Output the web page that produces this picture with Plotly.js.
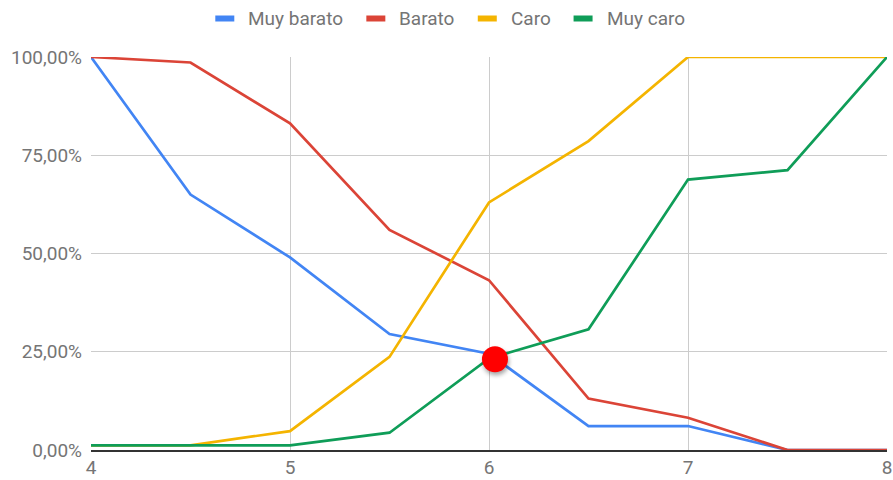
<!DOCTYPE html>
<html>
<head>
<meta charset="utf-8">
<script src="https://cdn.plot.ly/plotly-3.0.1.min.js"></script>
<style>
html,body{margin:0;padding:0;background:#fff;}
#chart{width:893px;height:480px;}
</style>
</head>
<body>
<div id="chart"></div>
<script>
// Price points (x axis)
const prices = [4, 4.5, 5, 5.5, 6, 6.5, 7, 7.5, 8];

// Series values (fractions of respondents)
const muyBarato = [1.00, 0.65, 0.49, 0.295, 0.245, 0.061, 0.061, 0.0, 0.0];
const barato    = [1.00, 0.986, 0.831, 0.56, 0.432, 0.131, 0.082, 0.0, 0.0];
const caro      = [0.012, 0.012, 0.048, 0.237, 0.63, 0.786, 1.00, 1.00, 1.00];
const muyCaro   = [0.012, 0.012, 0.012, 0.044, 0.233, 0.307, 0.688, 0.712, 1.00];

// Highlighted intersection point
const dotX = [6.03];
const dotY = [0.231];

// Series names
const seriesNames = ['Muy barato', 'Barato', 'Caro', 'Muy caro'];

// Tick values / labels
const yTickVals = [0, 0.25, 0.5, 0.75, 1];
const yTickText = ['0,00%', '25,00%', '50,00%', '75,00%', '100,00%'];
const xTickVals = [4, 5, 6, 7, 8];
const xTickText = ['4', '5', '6', '7', '8'];

const colors = ['#4285F4', '#DB4437', '#F4B400', '#0F9D58'];
const seriesData = [muyBarato, barato, caro, muyCaro];

const W = 893, H = 480;
const M = {l: 91, r: 6, t: 57, b: 30};
const plotW = W - M.l - M.r, plotH = H - M.t - M.b;
const fontFamily = 'Roboto, Arial, sans-serif';
const textColor = '#757575';
const legendFontSize = 19;

const traces = seriesData.map((ys, i) => ({
  type: 'scatter',
  mode: 'lines',
  x: prices,
  y: ys,
  name: seriesNames[i],
  line: {color: colors[i], width: 2.7},
  hoverinfo: 'skip',
  showlegend: false
}));

traces.push({
  type: 'scatter',
  mode: 'markers',
  x: dotX,
  y: dotY,
  showlegend: false,
  marker: {color: '#ff0000', size: 26, line: {width: 0}},
  hoverinfo: 'skip',
  cliponaxis: false
});

// Custom legend (rect swatches + labels), laid out centred in the page
const ctx = document.createElement('canvas').getContext('2d');
ctx.font = legendFontSize + 'px Roboto';
const swatchW = 19, swatchH = 6, swatchGap = 12, itemGap = 25;
const textWidths = seriesNames.map(n => ctx.measureText(n).width);
const totalW = textWidths.reduce((s, w) => s + swatchW + swatchGap + w, 0) + itemGap * (seriesNames.length - 1);
const legendCenterPx = 449, legendYPx = 18.5;
const px2x = px => (px - M.l) / plotW;
const py2y = py => (H - M.b - py) / plotH;

const shapes = [];
const annotations = [];
let cur = legendCenterPx - totalW / 2;
seriesNames.forEach((n, i) => {
  shapes.push({
    type: 'rect', xref: 'paper', yref: 'paper', layer: 'above',
    x0: px2x(cur), x1: px2x(cur + swatchW),
    y0: py2y(legendYPx + swatchH / 2), y1: py2y(legendYPx - swatchH / 2),
    fillcolor: colors[i], line: {width: 0}
  });
  cur += swatchW + swatchGap;
  annotations.push({
    xref: 'paper', yref: 'paper', x: px2x(cur), y: py2y(legendYPx),
    xanchor: 'left', yanchor: 'middle', showarrow: false,
    text: n, font: {family: fontFamily, size: legendFontSize, color: textColor}
  });
  cur += textWidths[i] + itemGap;
});

const tickFont = {family: fontFamily, size: 19, color: textColor};

const layout = {
  width: W,
  height: H,
  margin: M,
  paper_bgcolor: '#ffffff',
  plot_bgcolor: '#ffffff',
  font: {family: fontFamily, color: textColor},
  showlegend: false,
  shapes: shapes,
  annotations: annotations,
  xaxis: {
    range: [4, 8],
    tickvals: xTickVals,
    ticktext: xTickText,
    tickfont: tickFont,
    showgrid: true,
    gridcolor: '#cccccc',
    gridwidth: 1,
    zeroline: false,
    showline: true,
    linecolor: '#333333',
    linewidth: 1.5,
    ticks: '',
    fixedrange: true
  },
  yaxis: {
    range: [0, 1],
    tickvals: yTickVals,
    ticktext: yTickText,
    tickfont: tickFont,
    showgrid: true,
    gridcolor: '#cccccc',
    gridwidth: 1,
    zeroline: false,
    showline: false,
    ticks: '',
    ticklabelstandoff: 8,
    fixedrange: true
  }
};

Plotly.newPlot('chart', traces, layout, {displayModeBar: false, staticPlot: true}).then(() => {
  const groups = document.querySelectorAll('#chart g.trace.scatter');
  const last = groups[groups.length - 1];
  if (last) last.style.filter = 'drop-shadow(1px 3px 2px rgba(0,0,0,0.35))';
});
</script>
</body>
</html>
